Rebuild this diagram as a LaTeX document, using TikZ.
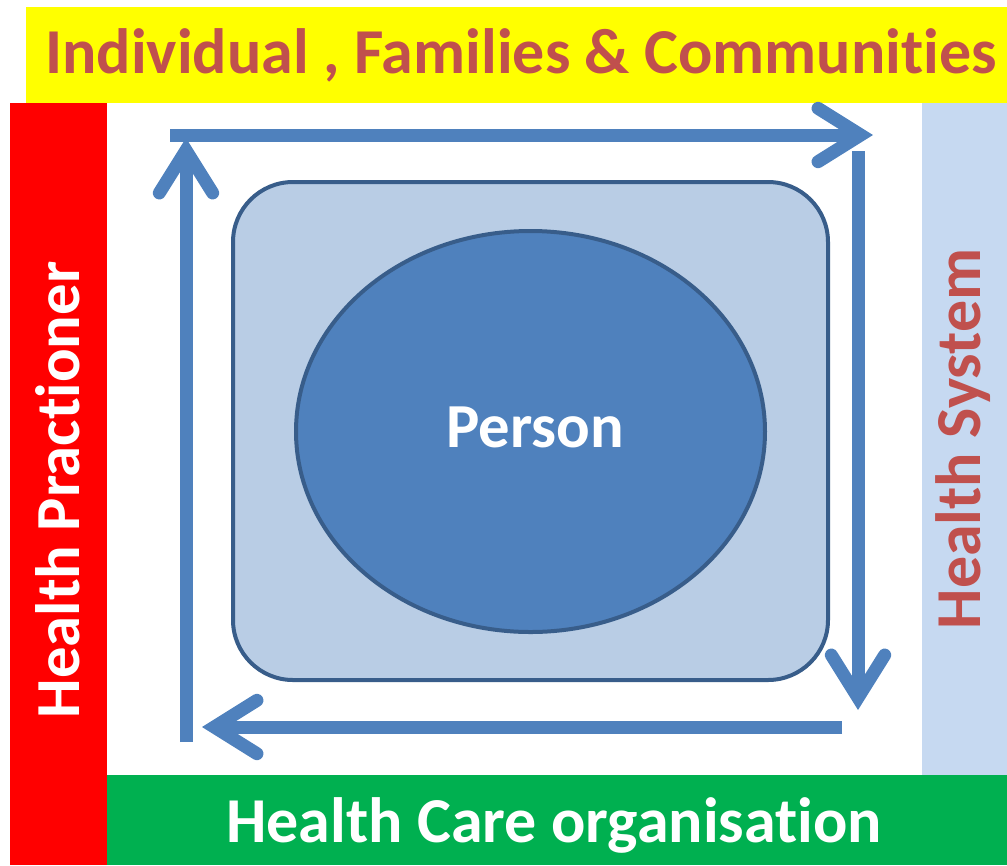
\documentclass[tikz,border=0pt]{standalone}
\usepackage{fontspec}
\setmainfont{Carlito}[Ligatures=CommonOff]
\usetikzlibrary{arrows.meta}
\definecolor{ofblue}{HTML}{4F81BD}
\definecolor{darkblue}{HTML}{385D8A}
\definecolor{boxblue}{HTML}{B9CDE5}
\definecolor{sysblue}{HTML}{C6D9F1}
\definecolor{ofred}{HTML}{C0504D}
\definecolor{ofgreen}{HTML}{00B050}
\definecolor{ofyellow}{HTML}{FFFF00}
\begin{document}
\begin{tikzpicture}[x=0.75pt,y=-0.75pt,
  flow/.style={line width=9.75pt, draw=ofblue,
    -{Straight Barb[length=32pt,width=40pt,line cap=round]}},
  label/.style={font=\bfseries\fontsize{#1}{#1}\selectfont, inner sep=0pt}]
\useasboundingbox (0,0) rectangle (1007,865);
% coloured bands
\fill[ofyellow] (26,7) rectangle (1007,103);
\fill[red] (10,103) rectangle (107,865);
\fill[sysblue] (922,103) rectangle (1007,775);
\fill[ofgreen] (107,775) rectangle (1007,865);
% centre
\filldraw[fill=boxblue, draw=darkblue, line width=3pt, rounded corners=45pt] (233,182) rectangle (828,680);
\filldraw[fill=ofblue, draw=darkblue, line width=3pt] (530.5,431.5) ellipse [x radius=234.5, y radius=200.5];

\coordinate (t1) at (170,135);
\coordinate (t2) at (873,135);
\coordinate (r1) at (858,151);
\coordinate (r2) at (858,710);
\coordinate (b1) at (842,727);
\coordinate (b2) at (202,727);
\coordinate (l1) at (186,742);
\coordinate (l2) at (186,138);
\draw[flow] (t1) -- (t2);
\draw[flow] (r1) -- (r2);
\draw[flow] (b1) -- (b2);
\draw[flow] (l1) -- (l2);

\node[label=48, text=ofred] (community) at (521,55) {Individual , Families \& Communities};
\node[label=47, text=white, rotate=90] (practioner) at (58,490) {Health Practioner};
\node[label=48, text=ofred, rotate=90] (system) at (963,439) {Health System};
\node[label=48, text=white] (organisation) at (554,825) {Health Care organisation};
\node[label=47, text=white] (person) at (535,427) {Person};
\end{tikzpicture}
\end{document}
